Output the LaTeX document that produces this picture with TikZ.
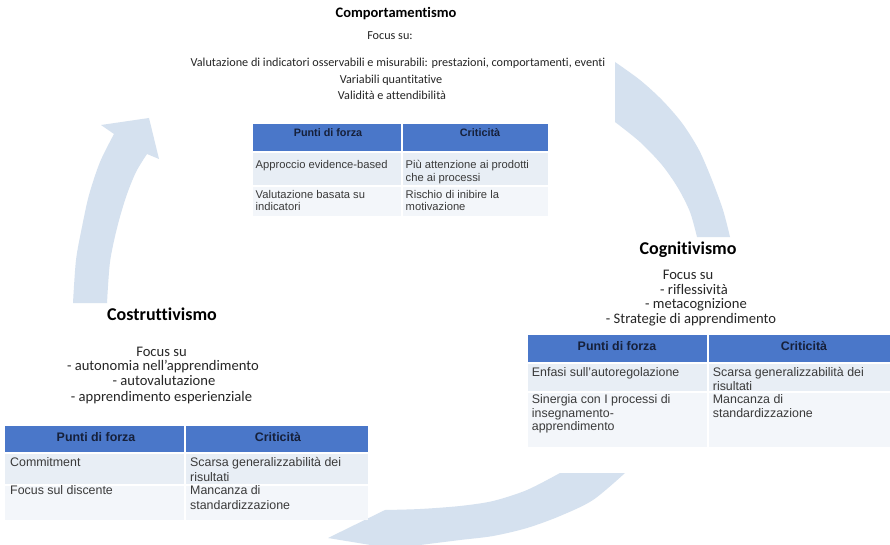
\documentclass[tikz,border=0pt]{standalone}
\usepackage{fontspec}
\setmainfont{Carlito}[Ligatures=CommonOff]
\newfontfamily\tablefont{Liberation Sans}
\definecolor{arrowblue}{HTML}{D5E1EF}
\definecolor{headblue}{HTML}{4A77C9}
\definecolor{rowa}{HTML}{E8EEF5}
\definecolor{rowb}{HTML}{F3F6FA}
\definecolor{bodytext}{HTML}{3A3A3A}
\definecolor{headtext}{HTML}{16203A}
\definecolor{blocktext}{HTML}{262626}
\tikzset{
  ttl/.style={font=\fontsize{#1}{#1}\selectfont\bfseries, text=black, inner sep=0pt, anchor=base},
  lbl/.style={font=\fontsize{#1}{#1}\selectfont, text=blocktext, inner sep=0pt, anchor=base},
  thead/.style={font=\tablefont\bfseries\fontsize{#1}{#1}\selectfont, text=headtext, inner sep=0pt, anchor=base},
  tcell/.style={font=\tablefont\fontsize{#1}{#1}\selectfont, text=bodytext, inner sep=0pt, anchor=base west},
  sep/.style={white, line width=1.2pt}
}
\begin{document}
\begin{tikzpicture}[x=1pt,y=-1pt]
\useasboundingbox (0,0) rectangle (890,545);
\fill[white] (0,0) rectangle (890,545);
\clip (0,0) rectangle (890,545);

% ---- cycle arrows ----
% left arrow, rising towards the top block
\fill[arrowblue] (73,303) -- plot[smooth] coordinates {(73,303) (76,260) (82,227) (89,195) (100,162) (114,134)}
  -- (101,125) -- (149,118) -- (159,159) -- (147,154)
  -- plot[smooth] coordinates {(147,154) (136,172) (126,197) (117,228) (110,262) (107,303)} -- cycle;
% right arc, from the top block down to Cognitivismo
\fill[arrowblue] (615,62) -- plot[smooth] coordinates {(615,62) (640,80) (662,100) (682,123) (699,150) (712,180) (723,210) (730,237)}
  -- (697,237)
  -- plot[smooth] coordinates {(697,237) (690,212) (678,188) (662,165) (640,142) (615,122)} -- cycle;
% bottom arc, from the right table towards the left table
\fill[arrowblue] (560,473) -- (625,473)
  -- plot[smooth] coordinates {(625,473) (593,500) (560,516) (527,528) (493,536) (460,540) (420,545) (395,548)}
  -- (395,549) -- (328,538) -- (385,510)
  -- plot[smooth] coordinates {(385,510) (420,509) (460,506) (493,501) (527,490) (560,473)} -- cycle;

% ---- top block: Comportamentismo ----
\node[ttl=14.5] (compT) at (396,17.5) {Comportamentismo};
\node[lbl=12.2] (compF) at (390,40) {Focus su:};
\node[lbl=12.2] (compL1) at (398,66.7) {Valutazione di indicatori osservabili e misurabili: prestazioni, comportamenti, eventi};
\node[lbl=12.2] (compL2) at (391,84) {Variabili quantitative};
\node[lbl=12.2] (compL3) at (392,100) {Validità e attendibilità};

% table
\fill[headblue] (253,124) rectangle (548,152);
\fill[rowa] (253,152) rectangle (548,186);
\fill[rowb] (253,186) rectangle (548,216);
\draw[sep] (402,124) -- (402,216);
\draw[sep] (253,152) -- (548,152);
\draw[sep] (253,186) -- (548,186);
\node[thead=10.8] (compH1) at (328,136.7) {Punti di forza};
\node[thead=10.8] (compH2) at (480,136.7) {Criticità};
\node[tcell=11.2] (compA1) at (255.5,168.3) {Approccio evidence-based};
\node[tcell=11.2] (compB1) at (405.5,168.3) {Più attenzione ai prodotti};
\node[tcell=11.2] (compB1b) at (405.5,181.7) {che ai processi};
\node[tcell=11.2] (compA2) at (255.5,198.3) {Valutazione basata su};
\node[tcell=11.2] (compA2b) at (255.5,211) {indicatori};
\node[tcell=11.2] (compB2) at (405.5,198.3) {Rischio di inibire la};
\node[tcell=11.2] (compB2b) at (405.5,211) {motivazione};

% ---- right block: Cognitivismo ----
\node[ttl=18] (cogT) at (688,254) {Cognitivismo};
\node[lbl=14.6] (cogF) at (688,279) {Focus su};
\node[lbl=14.6] (cogL1) at (694,294) {- riflessività};
\node[lbl=14.6] (cogL2) at (696,308.5) {- metacognizione};
\node[lbl=14.6] (cogL3) at (691,323) {- Strategie di apprendimento};

\fill[headblue] (528,335) rectangle (890,363);
\fill[rowa] (528,363) rectangle (890,392);
\fill[rowb] (528,392) rectangle (890,447);
\draw[sep] (708,335) -- (708,447);
\draw[sep] (528,363) -- (890,363);
\draw[sep] (528,392) -- (890,392);
\node[thead=12.4] (cogH1) at (617,350) {Punti di forza};
\node[thead=12.4] (cogH2) at (804,350) {Criticità};
\node[tcell=12.4] (cogA1) at (531.7,376.7) {Enfasi sull’autoregolazione};
\node[tcell=12.4] (cogB1) at (712.7,376.7) {Scarsa generalizzabilità dei};
\node[tcell=12.4] (cogB1b) at (712.7,390) {risultati};
\node[tcell=12.4] (cogA2) at (531.7,403.3) {Sinergia con I processi di};
\node[tcell=12.4] (cogA2b) at (531.7,417) {insegnamento-};
\node[tcell=12.4] (cogA2c) at (531.7,430.7) {apprendimento};
\node[tcell=12.4] (cogB2) at (712.7,403.3) {Mancanza di};
\node[tcell=12.4] (cogB2b) at (712.7,417) {standardizzazione};

% ---- left block: Costruttivismo ----
\node[ttl=18] (cosT) at (162,320.7) {Costruttivismo};
\node[lbl=14.6] (cosF) at (161.5,356) {Focus su};
\node[lbl=14.6] (cosL1) at (163,370.7) {- autonomia nell’apprendimento};
\node[lbl=14.6] (cosL2) at (164,385.7) {- autovalutazione};
\node[lbl=14.6] (cosL3) at (161.5,401.7) {- apprendimento esperienziale};

\fill[headblue] (5,426) rectangle (368,453);
\fill[rowa] (5,453) rectangle (368,485);
\fill[rowb] (5,485) rectangle (368,520);
\draw[sep] (185,426) -- (185,520);
\draw[sep] (5,453) -- (368,453);
\draw[sep] (5,485) -- (368,485);
\node[thead=12.4] (cosH1) at (96,441.7) {Punti di forza};
\node[thead=12.4] (cosH2) at (278,441.7) {Criticità};
\node[tcell=12.4] (cosA1) at (10,466.7) {Commitment};
\node[tcell=12.4] (cosB1) at (190,466.7) {Scarsa generalizzabilità dei};
\node[tcell=12.4] (cosB1b) at (190,481.7) {risultati};
\node[tcell=12.4] (cosA2) at (10,494) {Focus sul discente};
\node[tcell=12.4] (cosB2) at (190,494) {Mancanza di};
\node[tcell=12.4] (cosB2b) at (190,509.3) {standardizzazione};
\end{tikzpicture}
\end{document}
